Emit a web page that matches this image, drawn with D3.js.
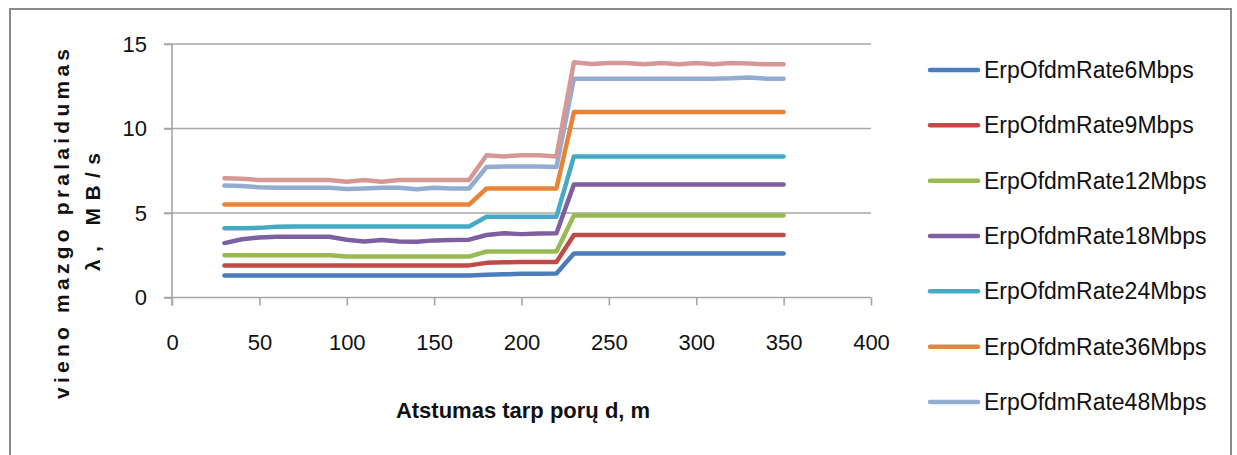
<!DOCTYPE html>
<html>
<head>
<meta charset="utf-8">
<script src="https://cdn.jsdelivr.net/npm/d3@7/dist/d3.min.js"></script>
<style>
  html, body { margin: 0; padding: 0; background: #fff; }
  svg { display: block; }
  text { font-family: "Liberation Sans", Arial, sans-serif; fill: #111; }
</style>
</head>
<body>
<svg id="chart" width="1237" height="455"></svg>
<script>
// Distance between node pairs, m
const distances = [30, 40, 50, 60, 70, 80, 90, 100, 110, 120, 130, 140, 150, 160, 170,
                   180, 190, 200, 210, 220,
                   230, 240, 250, 260, 270, 280, 290, 300, 310, 320, 330, 340, 350];

// Per-node throughput, MB/s, for each PHY rate
const rate6 = [1.3, 1.3, 1.3, 1.3, 1.3, 1.3, 1.3, 1.3, 1.3, 1.3, 1.3, 1.3, 1.3, 1.3, 1.3,
               1.35, 1.37, 1.4, 1.4, 1.42,
               2.6, 2.6, 2.6, 2.6, 2.6, 2.6, 2.6, 2.6, 2.6, 2.6, 2.6, 2.6, 2.6];
const rate9 = [1.9, 1.9, 1.9, 1.9, 1.9, 1.9, 1.9, 1.9, 1.9, 1.9, 1.9, 1.9, 1.9, 1.9, 1.9,
               2.05, 2.08, 2.1, 2.1, 2.1,
               3.7, 3.7, 3.7, 3.7, 3.7, 3.7, 3.7, 3.7, 3.7, 3.7, 3.7, 3.7, 3.7];
const rate12 = [2.5, 2.5, 2.5, 2.5, 2.5, 2.5, 2.5, 2.42, 2.42, 2.42, 2.42, 2.42, 2.42, 2.42, 2.42,
                2.72, 2.72, 2.72, 2.72, 2.72,
                4.85, 4.85, 4.85, 4.85, 4.85, 4.85, 4.85, 4.85, 4.85, 4.85, 4.85, 4.85, 4.85];
const rate18 = [3.22, 3.45, 3.55, 3.6, 3.6, 3.6, 3.6, 3.42, 3.32, 3.4, 3.32, 3.3, 3.38, 3.4, 3.42,
                3.7, 3.8, 3.75, 3.78, 3.8,
                6.68, 6.68, 6.68, 6.68, 6.68, 6.68, 6.68, 6.68, 6.68, 6.68, 6.68, 6.68, 6.68];
const rate24 = [4.1, 4.1, 4.12, 4.18, 4.2, 4.2, 4.2, 4.2, 4.2, 4.2, 4.2, 4.2, 4.2, 4.2, 4.2,
                4.78, 4.78, 4.78, 4.78, 4.78,
                8.35, 8.35, 8.35, 8.35, 8.35, 8.35, 8.35, 8.35, 8.35, 8.35, 8.35, 8.35, 8.35];
const rate36 = [5.5, 5.5, 5.5, 5.5, 5.5, 5.5, 5.5, 5.5, 5.5, 5.5, 5.5, 5.5, 5.5, 5.5, 5.5,
                6.45, 6.45, 6.45, 6.45, 6.45,
                10.97, 10.97, 10.97, 10.97, 10.97, 10.97, 10.97, 10.97, 10.97, 10.97, 10.97, 10.97, 10.97];
const rate48 = [6.62, 6.6, 6.52, 6.5, 6.5, 6.5, 6.5, 6.42, 6.45, 6.5, 6.5, 6.4, 6.5, 6.45, 6.45,
                7.72, 7.75, 7.75, 7.75, 7.72,
                12.95, 12.95, 12.95, 12.95, 12.95, 12.95, 12.95, 12.95, 12.95, 12.97, 13.02, 12.95, 12.95];
const rate54 = [7.05, 7.02, 6.95, 6.95, 6.95, 6.95, 6.95, 6.85, 6.95, 6.85, 6.95, 6.95, 6.95, 6.95, 6.95,
                8.42, 8.35, 8.42, 8.42, 8.35,
                13.92, 13.82, 13.87, 13.87, 13.8, 13.87, 13.8, 13.87, 13.8, 13.87, 13.85, 13.8, 13.8];

const seriesNames = ["ErpOfdmRate6Mbps", "ErpOfdmRate9Mbps", "ErpOfdmRate12Mbps", "ErpOfdmRate18Mbps",
                     "ErpOfdmRate24Mbps", "ErpOfdmRate36Mbps", "ErpOfdmRate48Mbps", "ErpOfdmRate54Mbps"];
const seriesValues = [rate6, rate9, rate12, rate18, rate24, rate36, rate48, rate54];
const seriesColors = ["#4A7EBB", "#BE4B48", "#98B954", "#7D60A0", "#46AAC5", "#E6853A", "#93ACD2", "#D69896"];

const xTicks = [0, 50, 100, 150, 200, 250, 300, 350, 400];
const yTicks = [0, 5, 10, 15];
const xTitle = "Atstumas tarp porų d, m";
const yTitle1 = "vieno mazgo pralaidumas";
const yTitle2 = "λ, MB/s";
// The legend box only has room for the first seven entries
const legendCount = 7;

const svg = d3.select("#chart");

// Outer chart frame
svg.append("rect")
  .attr("x", 10).attr("y", 9).attr("width", 1221).attr("height", 470)
  .attr("fill", "#fff").attr("stroke", "#8C8C8C").attr("stroke-width", 2);

const x = d3.scaleLinear().domain([0, 400]).range([172, 871]);
const y = d3.scaleLinear().domain([0, 15]).range([297.5, 44]);

// Horizontal gridlines
svg.append("g")
  .selectAll("line")
  .data(yTicks.filter(t => t > 0))
  .join("line")
  .attr("x1", x(0) - 8).attr("x2", x(400))
  .attr("y1", d => y(d)).attr("y2", d => y(d))
  .attr("stroke", "#A6A6A6").attr("stroke-width", 1.6);

// Y axis
const yAxis = svg.append("g")
  .attr("transform", `translate(${x(0)},0)`)
  .call(d3.axisLeft(y).tickValues(yTicks).tickSize(8).tickPadding(17).tickFormat(d3.format("d")));
yAxis.select(".domain").attr("stroke", "#A6A6A6").attr("stroke-width", 1.6).attr("d", `M0,${y(0) + 8}V${y(15)}`);
yAxis.selectAll(".tick line").attr("stroke", "#A6A6A6").attr("stroke-width", 1.6);
yAxis.selectAll(".tick text").attr("font-size", 22).attr("font-family", "Liberation Sans, Arial, sans-serif").attr("fill", "#111");

// X axis
const xAxis = svg.append("g")
  .attr("transform", `translate(0,${y(0)})`)
  .call(d3.axisBottom(x).tickValues(xTicks).tickSize(8).tickPadding(29).tickFormat(d3.format("d")));
xAxis.select(".domain").attr("stroke", "#A6A6A6").attr("stroke-width", 1.6).attr("d", `M${x(0) - 8},0H${x(400)}`);
xAxis.selectAll(".tick line").attr("stroke", "#A6A6A6").attr("stroke-width", 1.6);
xAxis.selectAll(".tick text").attr("font-size", 22).attr("font-family", "Liberation Sans, Arial, sans-serif").attr("fill", "#111");

// Series lines
const line = d3.line()
  .x((d, i) => x(distances[i]))
  .y(d => y(d))
  .curve(d3.curveLinear);

svg.append("g")
  .selectAll("path")
  .data(seriesValues)
  .join("path")
  .attr("d", d => line(d))
  .attr("fill", "none")
  .attr("stroke", (d, i) => seriesColors[i])
  .attr("stroke-width", 4.5)
  .attr("stroke-linecap", "round")
  .attr("stroke-linejoin", "round");

// Axis titles
svg.append("text")
  .attr("x", 523).attr("y", 418)
  .attr("text-anchor", "middle")
  .attr("font-size", 22).attr("font-weight", "bold")
  .text(xTitle);

svg.append("text")
  .attr("transform", "translate(69,224) rotate(-90)")
  .attr("text-anchor", "middle")
  .attr("font-size", 21).attr("font-weight", "bold")
  .attr("textLength", 350)
  .text(yTitle1);

svg.append("text")
  .attr("transform", "translate(100,212) rotate(-90)")
  .attr("text-anchor", "middle")
  .attr("font-size", 21).attr("font-weight", "bold")
  .attr("textLength", 118)
  .text(yTitle2);

// Legend
const legendY = d3.scalePoint().domain(d3.range(legendCount)).range([70, 402]);
const legend = svg.append("g")
  .selectAll("g")
  .data(seriesNames.slice(0, legendCount))
  .join("g")
  .attr("transform", (d, i) => `translate(0,${legendY(i)})`);
legend.append("line")
  .attr("x1", 930).attr("x2", 978).attr("y1", 0).attr("y2", 0)
  .attr("stroke", (d, i) => seriesColors[i])
  .attr("stroke-width", 4.5).attr("stroke-linecap", "round");
legend.append("text")
  .attr("x", 984).attr("y", 8)
  .attr("font-size", 23)
  .text(d => d);
</script>
</body>
</html>
